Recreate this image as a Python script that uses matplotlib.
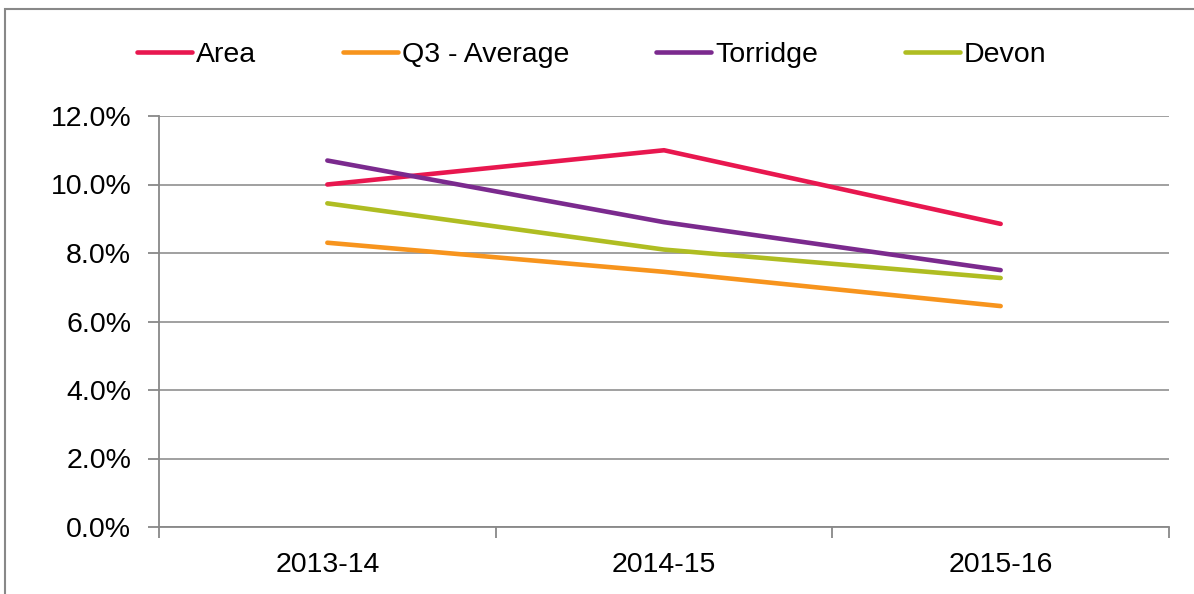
import matplotlib
matplotlib.use('Agg')
import matplotlib.pyplot as plt
from matplotlib.patches import Rectangle
from matplotlib.ticker import FuncFormatter, FixedLocator

years = ['2013-14', '2014-15', '2015-16']
area = [10.0, 11.0, 8.85]
q3_average = [8.3, 7.45, 6.45]
torridge = [10.7, 8.9, 7.5]
devon = [9.45, 8.1, 7.27]

plt.rcParams['font.family'] = ['Liberation Sans', 'DejaVu Sans']
FS = 20.5

fig = plt.figure(figsize=(11.94, 5.94), dpi=100)
ax = fig.add_axes([159 / 1194, 1 - 527 / 594, (1169 - 159) / 1194, (527 - 116) / 594])

x = range(len(years))
ax.plot(x, area, color='#E8174F', lw=3.3, label='Area', solid_capstyle='round')
ax.plot(x, q3_average, color='#F7941D', lw=3.3, label='Q3 - Average', solid_capstyle='round')
ax.plot(x, torridge, color='#7B2A8E', lw=3.3, label='Torridge', solid_capstyle='round')
ax.plot(x, devon, color='#AFBD22', lw=3.3, label='Devon', solid_capstyle='round')

ax.set_xlim(-0.5, 2.5)
ax.set_ylim(0, 12)
ax.set_yticks([0, 2, 4, 6, 8, 10, 12])
ax.yaxis.set_major_formatter(FuncFormatter(lambda v, p: '%.1f%%' % v))
ax.set_xticks(list(x))
ax.set_xticklabels(years)
ax.xaxis.set_minor_locator(FixedLocator([-0.5, 0.5, 1.5, 2.5]))
ax.tick_params(axis='x', which='major', length=0, pad=18, labelsize=FS)
ax.tick_params(axis='x', which='minor', length=8, color='#888888', width=1.3)
ax.tick_params(axis='y', length=8, color='#888888', width=1.3, labelsize=FS, pad=12)

ax.grid(axis='y', color='#999999', lw=1.3)
ax.set_axisbelow(True)
for s in ['top', 'right']:
    ax.spines[s].set_visible(False)
for s in ['left', 'bottom']:
    ax.spines[s].set_color('#888888')
    ax.spines[s].set_linewidth(1.3)

fig.legend(loc='center', bbox_to_anchor=(592 / 1194, 1 - 55 / 594), ncol=4, frameon=False,
           fontsize=FS, handlelength=1.93, handletextpad=0.14, columnspacing=3.05)

fig.patches.append(Rectangle((5 / 1194, -0.1), 1.1, (594 - 9) / 594 + 0.1, transform=fig.transFigure,
                             fill=False, edgecolor='#888888', lw=1.5))

fig.savefig('out.png', dpi=100)
